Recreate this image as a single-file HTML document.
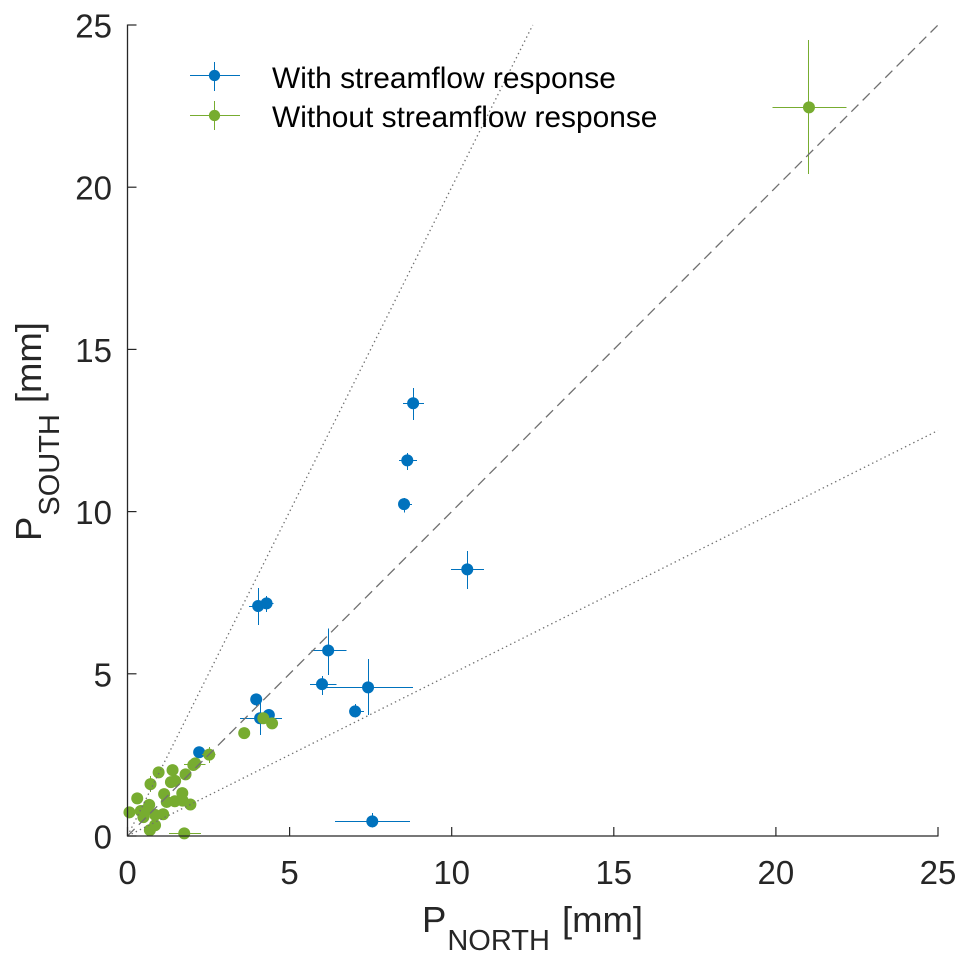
<!DOCTYPE html>
<html lang="en">
<head>
<meta charset="utf-8">
<title>P north vs P south</title>
<style>
html,body{margin:0;padding:0;background:#fff;}
svg{display:block;font-family:"Liberation Sans",Arial,sans-serif;}
</style>
</head>
<body>
<svg id="chart" width="970" height="966" viewBox="0 0 970 966" xmlns="http://www.w3.org/2000/svg">
  <g id="points"></g>
  <g id="refs"></g>
  <g id="axes"></g>
  <text x="422" y="932" font-size="36.5" fill="#262626">P<tspan font-size="29" dy="18" dx="1">NORTH</tspan><tspan dy="-18" dx="12">[mm]</tspan></text>
  <text transform="translate(41,541) rotate(-90)" font-size="36.5" fill="#262626">P<tspan font-size="29" dy="18" dx="1">SOUTH</tspan><tspan dy="-18" dx="11">[mm]</tspan></text>
  <g>
    <g>
      <line x1="190" x2="240" y1="75.5" y2="75.5" stroke="#0072BD" stroke-width="1" shape-rendering="crispEdges"/>
      <line x1="214.5" x2="214.5" y1="62" y2="91" stroke="#0072BD" stroke-width="1" shape-rendering="crispEdges"/>
      <circle cx="214.5" cy="75.5" r="5.6" fill="#0072BD"/>
      <text x="272" y="88" font-size="29.9" fill="#000">With streamflow response</text>
    </g>
    <g>
      <line x1="190" x2="240" y1="115.5" y2="115.5" stroke="#77AC30" stroke-width="1" shape-rendering="crispEdges"/>
      <line x1="214.5" x2="214.5" y1="101" y2="130" stroke="#77AC30" stroke-width="1" shape-rendering="crispEdges"/>
      <circle cx="214.5" cy="115.5" r="5.6" fill="#77AC30"/>
      <text x="272" y="127" font-size="29.9" fill="#000">Without streamflow response</text>
    </g>
  </g>
</svg>
<script>
const tickValues = [0, 5, 10, 15, 20, 25];
const refSlopes = [1, 2, 0.5];

const blueX     = [8.81, 8.63, 8.53, 10.48, 4.03, 4.29, 6.19, 6.00, 7.42, 7.02, 7.55, 4.09, 3.97, 4.36, 2.21];
const blueY     = [13.34, 11.58, 10.23, 8.22, 7.09, 7.17, 5.72, 4.68, 4.58, 3.84, 0.45, 3.63, 4.21, 3.73, 2.58];
const blueXLow  = [8.50, 8.37, 8.37, 9.98, 3.75, 4.09, 5.68, 5.63, 6.00, 6.84, 6.40, 3.47, 3.85, 4.25, 2.10];
const blueXHigh = [9.15, 8.93, 8.77, 11.00, 4.18, 4.51, 6.76, 6.45, 8.81, 7.30, 8.71, 4.76, 4.10, 4.50, 2.32];
const blueYLow  = [12.82, 11.28, 9.97, 7.61, 6.50, 6.90, 4.96, 4.35, 3.73, 3.65, 0.26, 3.11, 4.00, 3.55, 2.40];
const blueYHigh = [13.81, 11.81, 10.42, 8.79, 7.64, 7.40, 6.40, 4.93, 5.46, 4.07, 0.71, 4.10, 4.40, 3.90, 2.75];

const greenX     = [21.02, 1.75, 0.69, 0.85, 0.06, 0.30, 0.71, 0.96, 1.39, 1.34, 1.47, 1.79, 2.03, 2.09, 2.52, 1.13, 1.21, 1.46, 1.69, 1.70, 1.94, 0.67, 0.41, 0.57, 0.49, 0.85, 1.10, 3.60, 4.19, 4.46];
const greenY     = [22.46, 0.08, 0.18, 0.33, 0.73, 1.16, 1.60, 1.96, 2.03, 1.66, 1.70, 1.90, 2.19, 2.24, 2.51, 1.29, 1.05, 1.07, 1.32, 1.09, 0.97, 0.96, 0.77, 0.80, 0.58, 0.65, 0.67, 3.17, 3.63, 3.47];
const greenXLow  = [19.90, 1.28, 0.69, 0.85, 0.06, 0.30, 0.62, 0.96, 1.39, 1.34, 1.47, 1.79, 1.75, 2.09, 2.30, 1.13, 1.21, 1.46, 1.69, 1.70, 1.94, 0.67, 0.41, 0.57, 0.49, 0.85, 1.10, 3.60, 4.05, 4.46];
const greenXHigh = [22.17, 2.27, 0.69, 0.85, 0.06, 0.30, 0.80, 0.96, 1.39, 1.34, 1.47, 1.79, 2.40, 2.09, 2.72, 1.13, 1.21, 1.46, 1.69, 1.70, 1.94, 0.67, 0.41, 0.57, 0.49, 0.85, 1.10, 3.60, 4.35, 4.46];
const greenYLow  = [20.40, 0.08, 0.18, 0.33, 0.73, 1.16, 1.35, 1.96, 2.03, 1.66, 1.70, 1.90, 2.05, 2.24, 2.25, 1.29, 1.05, 1.07, 1.15, 1.09, 0.97, 0.96, 0.77, 0.80, 0.58, 0.65, 0.67, 3.17, 3.50, 3.47];
const greenYHigh = [24.53, 0.08, 0.18, 0.33, 0.73, 1.16, 1.85, 1.96, 2.03, 1.66, 1.70, 1.90, 2.35, 2.24, 2.75, 1.29, 1.05, 1.07, 1.48, 1.09, 0.97, 0.96, 0.77, 0.80, 0.58, 0.65, 0.67, 3.17, 3.75, 3.47];

const SVGNS = 'http://www.w3.org/2000/svg';
const X0 = 127.5, X1 = 938, Y0 = 836, Y1 = 25, VMAX = 25;
function sx(v) { return X0 + (X1 - X0) * v / VMAX; }
function sy(v) { return Y0 - (Y0 - Y1) * v / VMAX; }
function make(tag, attrs, parent) {
  const el = document.createElementNS(SVGNS, tag);
  for (const k in attrs) el.setAttribute(k, attrs[k]);
  parent.appendChild(el);
  return el;
}
function snap(v) { return Math.floor(v) + 0.5; }

const pointsG = document.getElementById('points');
const refsG = document.getElementById('refs');
const axesG = document.getElementById('axes');

function drawSeries(name, color, xs, ys, xl, xh, yl, yh) {
  const g = make('g', {}, pointsG);
  
  
  xs.forEach(function (v, i) {
    const h = make('line', {x1: sx(xl[i]), x2: sx(xh[i]), y1: snap(sy(ys[i])), y2: snap(sy(ys[i])), stroke: color, 'stroke-width': 1, 'shape-rendering': 'crispEdges'}, g);
    
    
    const w = make('line', {x1: snap(sx(v)), x2: snap(sx(v)), y1: sy(yl[i]), y2: sy(yh[i]), stroke: color, 'stroke-width': 1, 'shape-rendering': 'crispEdges'}, g);
    
    
  });
  xs.forEach(function (v, i) {
    const c = make('circle', {cx: sx(v), cy: sy(ys[i]), r: 6, fill: color}, g);
    
    
  });
}
drawSeries('with-response', '#0072BD', blueX, blueY, blueXLow, blueXHigh, blueYLow, blueYHigh);
drawSeries('without-response', '#77AC30', greenX, greenY, greenXLow, greenXHigh, greenYLow, greenYHigh);

refSlopes.forEach(function (m) {
  const xEnd = Math.min(VMAX, VMAX / m);
  const ln = make('line', {x1: sx(0), y1: sy(0), x2: sx(xEnd), y2: sy(xEnd * m), stroke: '#707070', 'stroke-width': 1.3, 'stroke-dasharray': m === 1 ? '10 6' : '1.4 3.2'}, refsG);
  
  
});

const xAxisLine = make('line', {x1: X0 - 0.5, x2: X1 + 0.5, y1: Y0, y2: Y0, stroke: '#262626', 'stroke-width': 1.3}, axesG);


const yAxisLine = make('line', {x1: X0, x2: X0, y1: Y1 - 0.5, y2: Y0 + 0.5, stroke: '#262626', 'stroke-width': 1.3}, axesG);



tickValues.forEach(function (t) {
  const tx = make('line', {x1: sx(t), x2: sx(t), y1: Y0, y2: Y0 - 9, stroke: '#262626', 'stroke-width': 1.2}, axesG);
  
  
  const ty = make('line', {x1: X0, x2: X0 + 9, y1: sy(t), y2: sy(t), stroke: '#262626', 'stroke-width': 1.2}, axesG);
  
  
  const lx = make('text', {x: sx(t), y: 884, 'font-size': 33, fill: '#262626', 'text-anchor': 'middle'}, axesG);
  
  
  lx.textContent = String(t);
  const ly = make('text', {x: 112, y: sy(t) + 12.5, 'font-size': 33, fill: '#262626', 'text-anchor': 'end'}, axesG);
  
  
  ly.textContent = String(t);
});
</script>
</body>
</html>
